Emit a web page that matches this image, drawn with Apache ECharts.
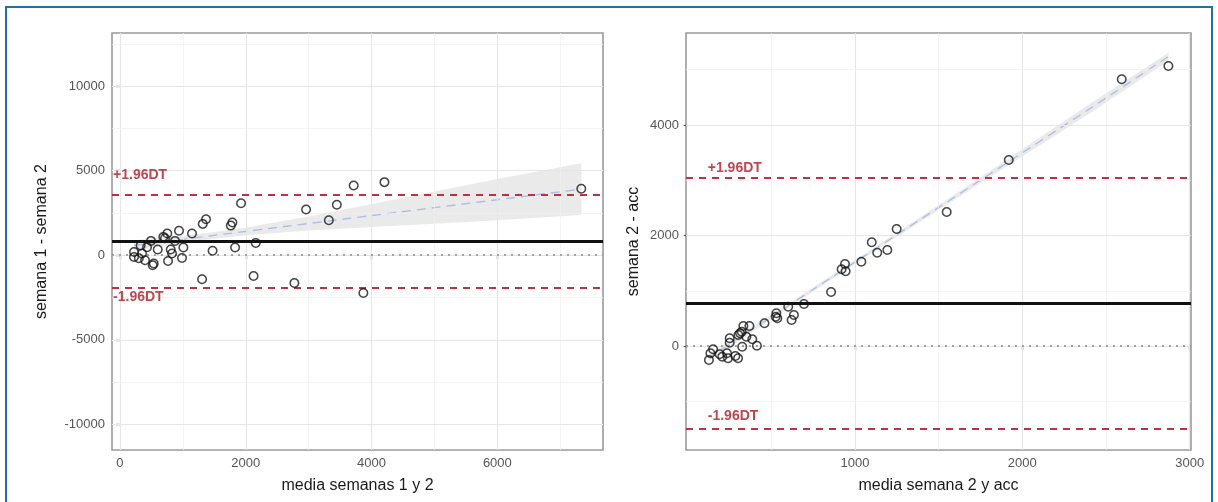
<!DOCTYPE html>
<html><head><meta charset="utf-8">
<script src="https://cdn.jsdelivr.net/npm/echarts@6/dist/echarts.min.js"></script>
<style>html,body{margin:0;padding:0;background:#fff}#c{width:1218px;height:502px}</style>
</head><body><div id="c"></div>
<script>
// ---- left panel data: semana 1 vs semana 2 ----
const leftMean = [7335,4205,3716,3448,3321,2959,1925,1787,1762,1368,1316,938,1145,752,689,493,875,2159,329,600,807,1008,1472,1830,223,350,827,223,398,986,536,764,520,1305,2124,2773,3870,716,430,300];
const leftDiff = [3929,4320,4124,2982,2071,2704,3077,1929,1751,2130,1852,1450,1284,1284,1083,846,846,728,574,337,337,456,266,456,195,100,100,-101,-296,-160,-491,-337,-592,-1420,-1231,-1640,-2232,1006,473,-178];
const leftBias = 820, leftUpper = 3550, leftLower = -1910;
const leftFitX = [223, 1000, 1500, 2000, 3000, 4000, 5000, 6000, 7335];
const leftFitY = [576, 940, 1174, 1408, 1876, 2344, 2812, 3280, 3905];
const leftBandLo = [260, 730, 975, 1180, 1455, 1665, 1860, 2060, 2375];
const leftBandHi = [890, 1150, 1375, 1640, 2295, 3025, 3760, 4500, 5435];
const leftXTicks = [0, 2000, 4000, 6000];
const leftXMinor = [1000, 3000, 5000, 7000];
const leftYTicks = [-10000, -5000, 0, 5000, 10000];
const leftYMinor = [-7500, -2500, 2500, 7500, 12500];

// ---- right panel data: semana 2 vs acc ----
const rightMean = [2873,2594,1919,1548,1249,1100,1133,1193,1038,940,920,944,857,695,635,621,601,530,536,526,459,369,333,323,313,303,251,351,386,414,326,251,152,136,191,207,241,235,285,301,127];
const rightDiff = [5068,4827,3367,2425,2118,1877,1689,1738,1526,1484,1388,1352,977,760,561,471,711,592,501,530,411,362,362,259,230,199,139,168,121,5,-13,60,-60,-132,-150,-194,-223,-132,-181,-223,-253];
const rightBias = 775, rightUpper = 3040, rightLower = -1500;
const rightFitX = [127, 600, 1200, 1800, 2400, 2873];
const rightFitY = [-210, 727, 1914, 3101, 4289, 5237];
const rightBandLo = [-275, 687, 1879, 3046, 4204, 5164];
const rightBandHi = [-145, 767, 1949, 3156, 4374, 5309];
const rightXTicks = [1000, 2000, 3000];
const rightXMinor = [500, 1500, 2500];
const rightYTicks = [0, 2000, 4000];
const rightYMinor = [-1000, 1000, 3000, 5000];

const upLabel = '+1.96DT', loLabel = '-1.96DT';
const xName = ['media semanas 1 y 2', 'media semana 2 y acc'];
const yName = ['semana 1 - semana 2', 'semana 2 - acc'];

const FONT = 'Liberation Sans';
const chart = echarts.init(document.getElementById('c'), null, {renderer: 'canvas'});
const plain = v => String(v);

function xAxisCfg(idx, min, max, ticks, name, gap) {
  return {
    type: 'value', gridIndex: idx, min: min, max: max,
    name: name, nameLocation: 'middle', nameGap: gap,
    nameTextStyle: {fontFamily: FONT, fontSize: 16, color: '#1a1a1a'},
    axisLine: {show: false},
    axisTick: {show: true, length: 4, customValues: ticks, lineStyle: {color: '#555', width: 1.3}},
    axisLabel: {customValues: ticks, formatter: plain, fontFamily: FONT, fontSize: 13, color: '#555', margin: 7},
    splitLine: {show: false}
  };
}
function yAxisCfg(idx, min, max, ticks, name, gap) {
  return {
    type: 'value', gridIndex: idx, min: min, max: max,
    name: name, nameLocation: 'middle', nameGap: gap, nameRotate: 90,
    nameTextStyle: {fontFamily: FONT, fontSize: 16, color: '#1a1a1a'},
    axisLine: {show: false},
    axisTick: {show: true, length: 4, customValues: ticks, lineStyle: {color: '#555', width: 1.3}},
    axisLabel: {customValues: ticks, formatter: plain, fontFamily: FONT, fontSize: 13, color: '#555', margin: 7},
    splitLine: {show: false}
  };
}
function gridSeries(idx, xMaj, xMin, yMaj, yMin) {
  const data = [];
  xMaj.forEach(v => data.push({xAxis: v, lineStyle: {width: 1.1, color: '#e6e6e6'}}));
  xMin.forEach(v => data.push({xAxis: v, lineStyle: {width: 0.7, color: '#efefef'}}));
  yMaj.forEach(v => data.push({yAxis: v, lineStyle: {width: 1.1, color: '#e6e6e6'}}));
  yMin.forEach(v => data.push({yAxis: v, lineStyle: {width: 0.7, color: '#efefef'}}));
  return {type: 'line', xAxisIndex: idx, yAxisIndex: idx, data: [], silent: true, z: 1,
    markLine: {silent: true, symbol: 'none', label: {show: false}, animation: false,
      lineStyle: {type: 'solid'}, data: data}};
}
function refSeries(idx, bias, up, lo) {
  return {type: 'line', xAxisIndex: idx, yAxisIndex: idx, data: [], silent: true, z: 3,
    markLine: {silent: true, symbol: 'none', label: {show: false}, animation: false, data: [
      {yAxis: 0, lineStyle: {type: [2, 5], color: '#8a8a8a', width: 1.6}},
      {yAxis: up, lineStyle: {type: [7, 6], color: '#bb3340', width: 1.9}},
      {yAxis: lo, lineStyle: {type: [7, 6], color: '#bb3340', width: 1.9}},
      {yAxis: bias, lineStyle: {type: 'solid', color: '#111', width: 2.8}}
    ]}};
}
function bandSeries(idx, bx, blo, bhi) {
  return {type: 'custom', xAxisIndex: idx, yAxisIndex: idx, silent: true, z: 2,
    data: [[bx[0], blo[0]]],
    renderItem: function (params, api) {
      const pts = [];
      for (let i = 0; i < bx.length; i++) pts.push(api.coord([bx[i], bhi[i]]));
      for (let i = bx.length - 1; i >= 0; i--) pts.push(api.coord([bx[i], blo[i]]));
      return {type: 'polygon', shape: {points: pts}, style: {fill: 'rgba(170,170,170,0.25)'}};
    }};
}
function fitSeries(idx, fx, fy) {
  return {type: 'line', xAxisIndex: idx, yAxisIndex: idx, silent: true, z: 4,
    data: fx.map((x, i) => [x, fy[i]]), showSymbol: false, symbol: 'none',
    lineStyle: {type: [9, 6], color: '#aebde6', width: 1.3}};
}
function pointSeries(idx, xs, ys) {
  return {type: 'scatter', xAxisIndex: idx, yAxisIndex: idx, z: 6,
    data: xs.map((x, i) => [x, ys[i]]), symbol: 'circle', symbolSize: 8.5,
    itemStyle: {color: 'rgba(255,255,255,0)', borderColor: '#151515', borderWidth: 1.5}};
}
function textSeries(idx, items) {
  return {type: 'scatter', xAxisIndex: idx, yAxisIndex: idx, z: 7, silent: true,
    symbolSize: 0, data: items.map(it => ({value: [it[0], it[1]], name: it[2]})),
    label: {show: true, position: 'right', distance: 0, formatter: p => p.name,
      fontFamily: FONT, fontSize: 14, fontWeight: 'bold', color: '#b01822'}};
}

const option = {
  backgroundColor: '#fff',
  animation: false,
  graphic: [{type: 'rect', shape: {x: 6, y: 7, width: 1206, height: 520},
    style: {fill: 'none', stroke: '#2070a8', lineWidth: 2}, z: 100, silent: true}],
  grid: [
    {left: 112, top: 33, width: 491, height: 417, show: true, borderColor: '#9a9a9a', borderWidth: 1.6, backgroundColor: 'rgba(0,0,0,0)'},
    {left: 686, top: 33, width: 505, height: 417, show: true, borderColor: '#9a9a9a', borderWidth: 1.6, backgroundColor: 'rgba(0,0,0,0)'}
  ],
  xAxis: [
    xAxisCfg(0, -127, 7680, leftXTicks, xName[0], 28),
    xAxisCfg(1, -10, 3008, rightXTicks, xName[1], 28)
  ],
  yAxis: [
    yAxisCfg(0, -11514, 13136, leftYTicks, yName[0], 62),
    yAxisCfg(1, -1882, 5665, rightYTicks, yName[1], 44)
  ],
  series: [
    gridSeries(0, leftXTicks, leftXMinor, leftYTicks, leftYMinor),
    gridSeries(1, rightXTicks, rightXMinor, rightYTicks, rightYMinor),
    bandSeries(0, leftFitX, leftBandLo, leftBandHi),
    bandSeries(1, rightFitX, rightBandLo, rightBandHi),
    refSeries(0, leftBias, leftUpper, leftLower),
    refSeries(1, rightBias, rightUpper, rightLower),
    fitSeries(0, leftFitX, leftFitY),
    fitSeries(1, rightFitX, rightFitY),
    pointSeries(0, leftMean, leftDiff),
    pointSeries(1, rightMean, rightDiff),
    textSeries(0, [[-110, 4730, upLabel], [-110, -2485, loLabel]]),
    textSeries(1, [[120, 3222, upLabel], [120, -1267, loLabel]])
  ]
};
chart.setOption(option);
</script></body></html>
